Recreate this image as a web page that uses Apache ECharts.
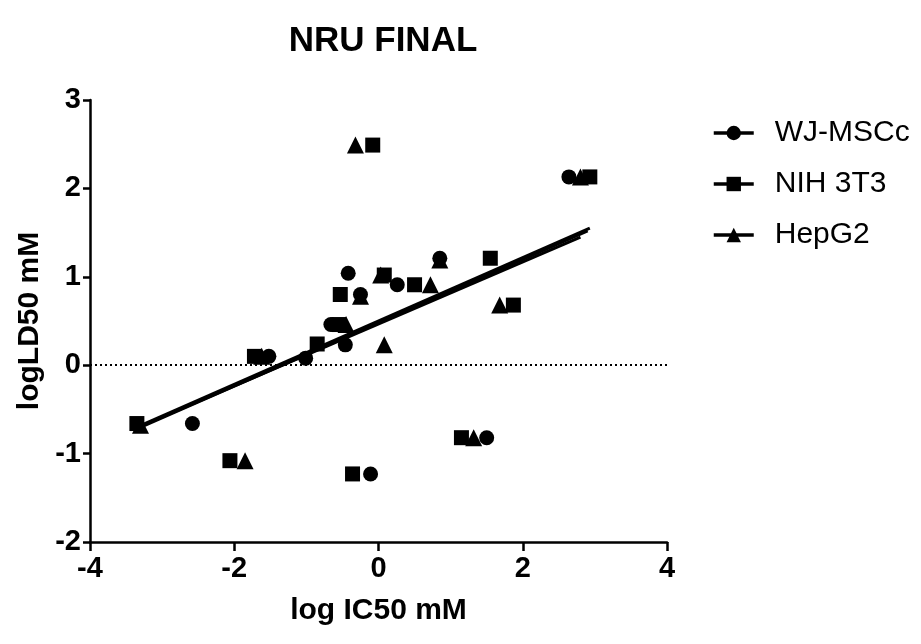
<!DOCTYPE html>
<html>
<head>
<meta charset="utf-8">
<script src="https://cdn.jsdelivr.net/npm/echarts@6/dist/echarts.min.js"></script>
<style>html,body{margin:0;padding:0;background:#fff;}#c{width:921px;height:644px;}</style>
</head>
<body>
<div id="c"></div>
<script>
// ---- data ----
var seriesNames = ['WJ-MSCc', 'NIH 3T3', 'HepG2'];

var wjX  = [2.64, -2.58, -0.42, -0.25, 0.26, 0.85, -0.66, -0.46, -1.01, -1.52, -0.11, 1.50];
var wjY  = [2.13, -0.66, 1.04, 0.80, 0.91, 1.21, 0.46, 0.23, 0.08, 0.10, -1.23, -0.82];

var nihX = [2.93, -0.08, -3.35, -2.06, -1.72, -0.53, -0.55, -0.85, 0.50, 1.55, 1.87, 1.15, -0.36, 0.08];
var nihY = [2.13, 2.49, -0.66, -1.08, 0.10, 0.80, 0.46, 0.24, 0.91, 1.21, 0.68, -0.82, -1.23, 1.02];

var hepX = [-0.32, 2.80, -3.30, -1.85, 0.03, 0.72, -0.25, 0.85, 1.68, -0.45, 0.08, 1.32, -1.62];
var hepY = [2.49, 2.13, -0.68, -1.08, 1.02, 0.91, 0.78, 1.19, 0.68, 0.46, 0.23, -0.82, 0.10];

// regression lines (end points)
var fitWJX  = [-3.35, 2.90], fitWJY  = [-0.72, 1.52];
var fitNIHX = [-3.35, 2.93], fitNIHY = [-0.70, 1.55];
var fitHepX = [-3.35, 2.80], fitHepY = [-0.71, 1.45];

var xTicks = [-4, -2, 0, 2, 4];
var yTicks = [-2, -1, 0, 1, 2, 3];

function pairs(xs, ys) { return xs.map(function (x, i) { return [x, ys[i]]; }); }

var FONT = '"Liberation Sans", Arial, sans-serif';
var symbols = ['circle', 'rect', 'triangle'];
var ptsX = [wjX, nihX, hepX], ptsY = [wjY, nihY, hepY];
var fitX = [fitWJX, fitNIHX, fitHepX], fitY = [fitWJY, fitNIHY, fitHepY];
var symSize = [15, 15, 17];

var series = [];
for (var i = 0; i < 3; i++) {
  series.push({
    name: seriesNames[i],
    type: 'line',
    data: pairs(fitX[i], fitY[i]),
    symbol: symbols[i],
    symbolSize: symSize[i],
    showSymbol: false,
    lineStyle: { color: '#000', width: 3 },
    itemStyle: { color: '#000' },
    silent: true,
    z: 3
  });
}
for (var j = 0; j < 3; j++) {
  series.push({
    name: seriesNames[j] + ' data',
    type: 'scatter',
    data: pairs(ptsX[j], ptsY[j]),
    symbol: symbols[j],
    symbolSize: symSize[j],
    itemStyle: { color: '#000', opacity: 1 },
    z: 4 + j
  });
}
series[0].markLine = {
  silent: true,
  symbol: ['none', 'none'],
  label: { show: false },
  lineStyle: { color: '#000', type: [2, 3], width: 1.8 },
  data: [{ yAxis: 0 }]
};

var chart = echarts.init(document.getElementById('c'), null, { renderer: 'canvas' });
chart.setOption({
  animation: false,
  backgroundColor: '#fff',
  title: {
    text: 'NRU FINAL',
    left: 378, top: 19, textAlign: 'center',
    textStyle: { fontFamily: FONT, fontWeight: 'bold', fontSize: 35, color: '#000' }
  },
  legend: {
    data: seriesNames,
    orient: 'vertical',
    left: 707, top: 113,
    itemWidth: 40, itemHeight: 18,
    itemGap: 21,
    lineStyle: { width: 3.5, color: '#000' },
    itemStyle: { color: '#000' },
    textStyle: { fontFamily: FONT, fontSize: 30, color: '#000', padding: [0, 0, 0, 16] },
    selectedMode: false
  },
  grid: { left: 90, right: 254, top: 100, bottom: 102, containLabel: false },
  xAxis: {
    type: 'value', min: xTicks[0], max: xTicks[xTicks.length - 1], interval: 2,
    name: 'log IC50 mM', nameLocation: 'middle', nameGap: 54,
    nameTextStyle: { fontFamily: FONT, fontWeight: 'bold', fontSize: 30, color: '#000' },
    axisLine: { onZero: false, lineStyle: { color: '#000', width: 2.5 } },
    axisTick: { length: 9, lineStyle: { color: '#000', width: 2.5 } },
    axisLabel: { fontFamily: FONT, fontWeight: 'bold', fontSize: 29, color: '#000', margin: 12 },
    splitLine: { show: false }
  },
  yAxis: {
    type: 'value', min: yTicks[0], max: yTicks[yTicks.length - 1], interval: 1,
    name: 'logLD50 mM', nameLocation: 'middle', nameGap: 42, nameRotate: 90,
    nameTextStyle: { fontFamily: FONT, fontWeight: 'bold', fontSize: 30, color: '#000' },
    axisLine: { onZero: false, lineStyle: { color: '#000', width: 2.5 } },
    axisTick: { length: 7, lineStyle: { color: '#000', width: 2.5 } },
    axisLabel: { fontFamily: FONT, fontWeight: 'bold', fontSize: 29, color: '#000', margin: 9 },
    splitLine: { show: false }
  },
  series: series
});
</script>
</body>
</html>
